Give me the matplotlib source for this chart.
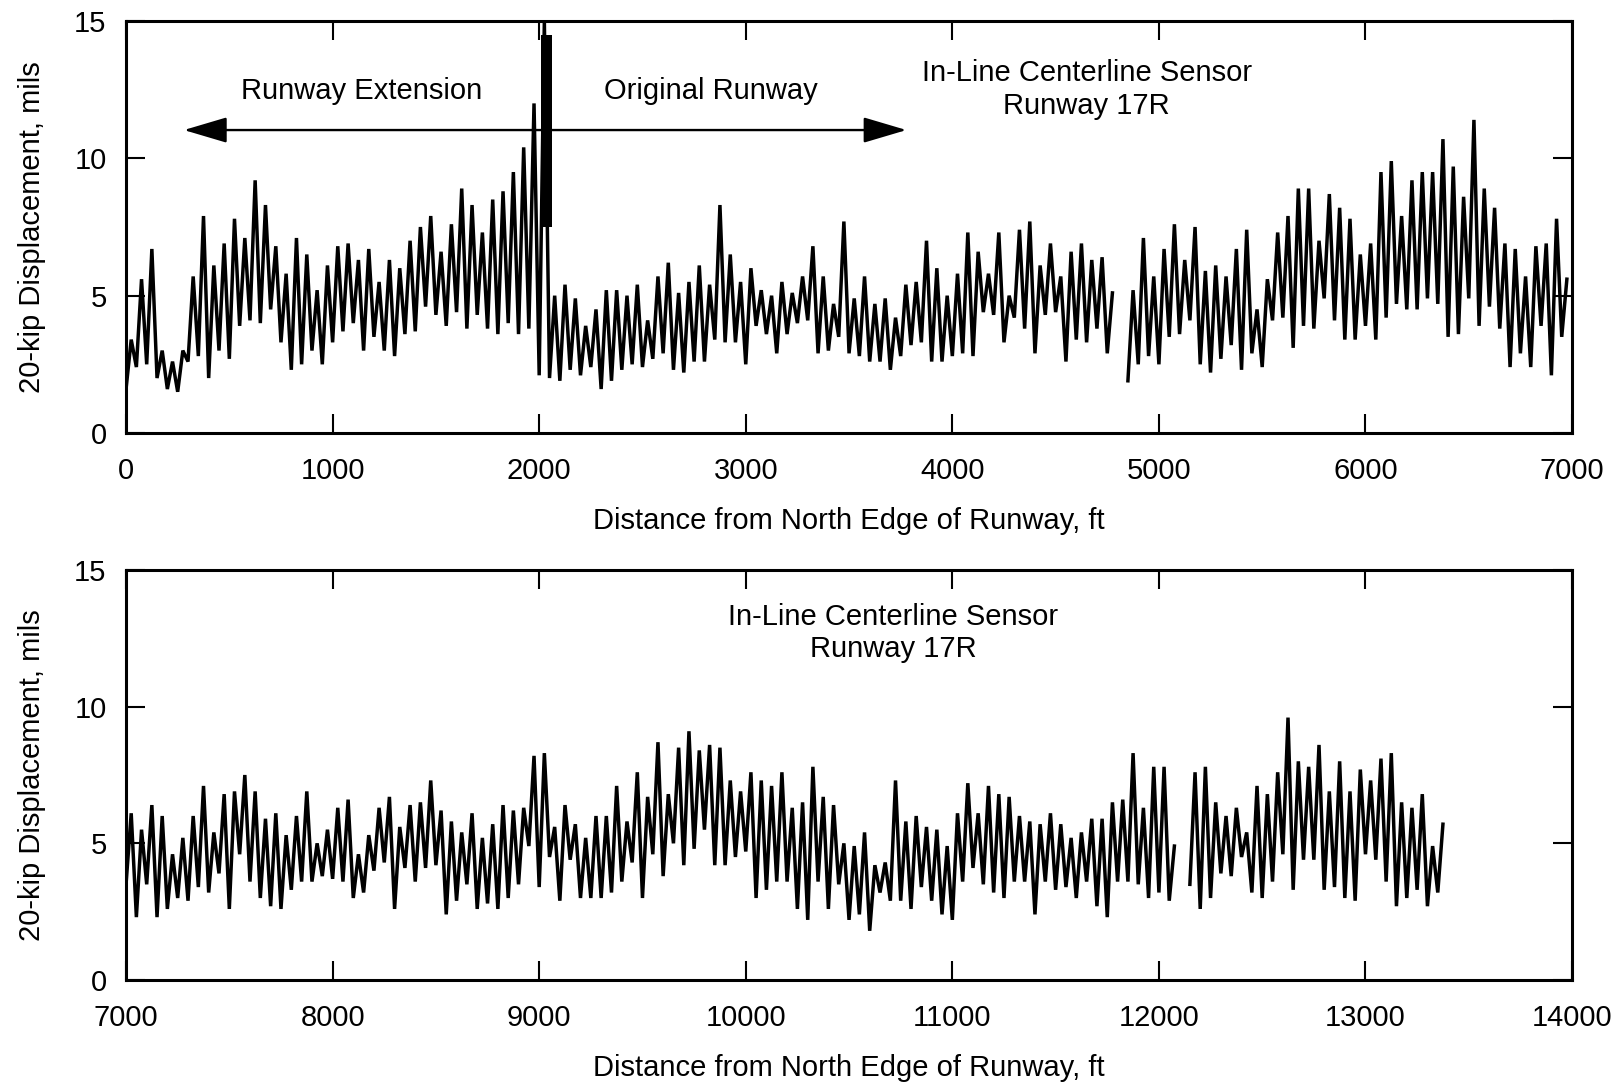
import numpy as np
import matplotlib
matplotlib.use("Agg")
import matplotlib.pyplot as plt

plt.rcParams['font.family'] = ['Liberation Sans', 'DejaVu Sans']

# deflection record, read as low / high pairs on 50 ft intervals
step = 50
top_start = 0
top_lo = [1.6, 2.4, 2.5, 2.0, 1.6, 1.5, 2.6, 2.8, 2.0, 3.0,
          2.7, 3.9, 4.1, 4.0, 4.5, 3.3, 2.3, 2.5, 3.0, 2.5,
          3.3, 3.7, 4.0, 3.0, 3.5, 3.0, 2.8, 3.6, 3.7, 4.6,
          4.3, 3.9, 4.4, 3.8, 4.3, 3.8, 3.6, 4.0, 3.6, 3.8,
          2.1, 2.0, 1.9, 2.3, 2.1, 2.4, 1.6, 1.9, 2.3, 2.5,
          2.4, 2.7, 2.9, 2.3, 2.2, 2.6, 2.6, 3.4, 3.3, 3.3,
          2.5, 3.9, 3.6, 2.9, 3.6, 4.0, 4.1, 2.9, 3.0, 3.5,
          2.9, 2.8, 2.6, 2.6, 2.3, 2.8, 3.2, 3.3, 2.6, 2.6,
          2.8, 2.9, 2.8, 4.4, 4.3, 3.3, 4.2, 3.8, 2.9, 4.3,
          4.4, 2.6, 3.4, 3.3, 3.8, 2.9, np.nan, 1.9, 2.5, 2.8,
          2.5, 3.5, 3.6, 4.1, 2.5, 2.2, 2.7, 3.2, 2.3, 2.9,
          2.4, 4.1, 4.2, 3.1, 3.9, 3.8, 4.9, 4.1, 3.4, 3.4,
          3.9, 3.4, 4.2, 4.7, 4.5, 4.5, 4.9, 4.7, 3.5, 3.6,
          4.9, 3.9, 4.6, 3.8, 2.4, 2.9, 2.4, 3.9, 2.1, 3.5]
top_hi = [3.4, 5.6, 6.7, 3.0, 2.6, 3.0, 5.7, 7.9, 6.1, 6.9,
          7.8, 7.1, 9.2, 8.3, 6.8, 5.8, 7.1, 6.5, 5.2, 6.1,
          6.8, 6.9, 6.3, 6.7, 5.5, 6.3, 6.0, 7.0, 7.5, 7.9,
          6.6, 7.6, 8.9, 8.3, 7.3, 8.5, 8.8, 9.5, 10.4, 12.0,
          15.0, 5.0, 5.4, 4.9, 3.9, 4.5, 5.2, 5.2, 5.0, 5.4,
          4.1, 5.7, 6.2, 5.1, 5.5, 6.1, 5.4, 8.3, 6.5, 5.5,
          6.0, 5.2, 5.0, 5.5, 5.1, 5.7, 6.8, 5.7, 4.7, 7.7,
          4.9, 5.7, 4.7, 4.9, 4.2, 5.4, 5.5, 7.0, 6.0, 5.0,
          5.8, 7.3, 6.6, 5.8, 7.3, 5.0, 7.4, 7.7, 6.1, 6.9,
          5.7, 6.6, 6.9, 6.3, 6.4, 5.1, np.nan, 5.2, 7.1, 5.7,
          6.7, 7.6, 6.3, 7.5, 5.9, 6.1, 5.7, 6.7, 7.4, 4.5,
          5.6, 7.3, 7.9, 8.9, 8.9, 7.0, 8.7, 8.2, 7.8, 6.5,
          6.9, 9.5, 9.9, 7.9, 9.2, 9.5, 9.5, 10.7, 9.7, 8.6,
          11.4, 8.9, 8.2, 6.9, 6.7, 5.7, 6.8, 6.9, 7.8, 5.6]

# saturated stretch at the old runway threshold
block_x = [2010, 2062]
block_lo = 7.5
block_hi = 14.5

bot_start = 7000
bot_lo = [3.5, 2.3, 3.5, 2.3, 2.6, 3.0, 2.9, 3.4, 3.2, 3.9,
          2.6, 4.6, 3.6, 3.0, 2.7, 2.6, 3.3, 3.6, 3.6, 3.8,
          3.7, 3.6, 3.0, 3.2, 4.0, 4.3, 2.6, 4.1, 3.6, 4.1,
          4.2, 2.4, 2.9, 3.5, 2.6, 2.8, 2.6, 3.0, 3.5, 4.9,
          3.4, 4.5, 2.9, 4.4, 3.0, 3.0, 3.0, 3.2, 3.6, 4.3,
          3.0, 4.6, 3.8, 5.0, 4.2, 4.8, 5.5, 4.2, 4.2, 4.5,
          4.7, 3.0, 3.3, 3.6, 3.6, 2.6, 2.2, 3.6, 2.6, 3.5,
          2.2, 2.4, 1.8, 3.2, 2.9, 2.9, 2.6, 3.4, 2.9, 2.4,
          2.2, 3.6, 4.1, 3.5, 3.2, 3.0, 3.6, 3.6, 2.4, 3.6,
          3.3, 3.4, 3.0, 3.6, 2.7, 2.3, 3.6, 3.6, 3.5, 3.0,
          3.2, 2.9, np.nan, 3.5, 2.6, 3.0, 3.9, 3.8, 4.5, 3.2,
          3.0, 3.6, 4.6, 3.3, 4.4, 4.4, 3.3, 3.4, 3.0, 2.9,
          4.6, 4.4, 3.6, 2.7, 3.0, 3.3, 2.7, 3.2]
bot_hi = [6.1, 5.5, 6.4, 6.0, 4.6, 5.2, 6.0, 7.1, 5.4, 6.8,
          6.9, 7.5, 6.9, 5.9, 6.1, 5.3, 6.0, 6.9, 5.0, 5.5,
          6.3, 6.6, 4.6, 5.3, 6.3, 6.7, 5.6, 6.4, 6.5, 7.3,
          6.2, 5.8, 5.4, 6.1, 5.2, 5.7, 6.4, 6.2, 6.3, 8.2,
          8.3, 5.6, 6.4, 5.7, 5.2, 6.0, 6.0, 7.1, 5.8, 7.6,
          6.7, 8.7, 6.8, 8.5, 9.1, 8.4, 8.6, 8.5, 7.3, 6.9,
          7.6, 7.3, 7.1, 7.6, 6.3, 6.5, 7.8, 6.7, 6.4, 5.0,
          4.9, 5.4, 4.2, 4.3, 7.3, 5.8, 6.0, 5.6, 5.5, 4.9,
          6.1, 7.2, 6.1, 7.1, 6.8, 6.7, 6.0, 5.8, 5.7, 6.1,
          5.7, 5.2, 5.4, 5.9, 5.9, 6.5, 6.6, 8.3, 6.3, 7.8,
          7.8, 4.9, np.nan, 7.6, 7.8, 6.5, 6.0, 6.3, 5.4, 7.1,
          6.8, 7.6, 9.6, 8.0, 7.8, 8.6, 6.9, 8.0, 6.9, 7.7,
          7.3, 8.1, 8.3, 6.5, 6.3, 6.8, 4.9, 5.7]

label_txt = "20-kip Displacement, mils"
xlab_txt = "Distance from North Edge of Runway, ft"
sensor_txt = "In-Line Centerline Sensor\nRunway 17R"


def trace(start, lo, hi):
    i = np.arange(len(lo))
    xs = np.column_stack([start + step * i, start + step * i + step / 2]).ravel()
    ys = np.column_stack([lo, hi]).ravel()
    return xs, ys


def style(ax, x0, x1):
    ax.set_xlim(x0, x1)
    ax.set_ylim(0, 15)
    ax.set_xticks(np.arange(x0, x1 + 1, 1000))
    ax.set_yticks([0, 5, 10, 15])
    ax.tick_params(direction='in', length=14, width=1.5, top=True, right=True,
                   labelsize=21, pad=14)
    ax.tick_params(axis='x', pad=17)
    for s in ax.spines.values():
        s.set_linewidth(2.2)
    ax.set_xlabel(xlab_txt, fontsize=21, labelpad=16)
    ax.set_ylabel(label_txt, fontsize=21, labelpad=20)


fig = plt.figure(figsize=(16.18, 10.83), dpi=100)
ax1 = fig.add_axes([0.0779, 0.6002, 0.8937, 0.3804])
ax2 = fig.add_axes([0.0779, 0.0951, 0.8937, 0.3786])

xs, ys = trace(top_start, top_lo, top_hi)
ax1.plot(xs, ys, color='k', lw=2.5, solid_joinstyle='miter')
ax1.fill_between(block_x, block_lo, block_hi, color='k', lw=0)
style(ax1, 0, 7000)

ax1.text(1139, 12.45, "Runway Extension", fontsize=21, ha='center', va='center')
ax1.text(2829, 12.45, "Original Runway", fontsize=21, ha='center', va='center')
ax1.text(4650, 12.5, sensor_txt, fontsize=21, ha='center', va='center',
         linespacing=1.2)
ax1.annotate('', xy=(280, 11.03), xytext=(3778, 11.03),
             arrowprops=dict(arrowstyle='<|-|>,head_length=1.35,head_width=0.4',
                             mutation_scale=20, lw=1.7, color='k',
                             shrinkA=0, shrinkB=0))

xs, ys = trace(bot_start, bot_lo, bot_hi)
ax2.plot(xs, ys, color='k', lw=2.5, solid_joinstyle='miter')
style(ax2, 7000, 14000)
ax2.text(10715, 12.7, sensor_txt, fontsize=21, ha='center', va='center',
         linespacing=1.2)

fig.savefig("out.png", dpi=100)
